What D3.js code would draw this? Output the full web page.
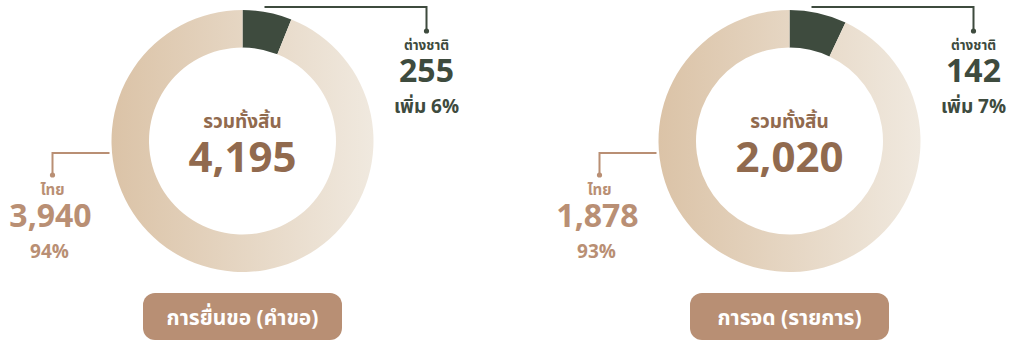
<!DOCTYPE html>
<html>
<head>
<meta charset="utf-8">
<script src="https://cdn.jsdelivr.net/npm/d3@7"></script>
<style>
  html, body { margin: 0; padding: 0; background: #ffffff; }
  svg { display: block; }
  text { font-family: "Noto Sans Thai", "Noto Sans", "Liberation Sans", sans-serif; font-weight: 700; }
</style>
</head>
<body>
<svg id="chart" width="1011" height="341"></svg>
<script>
// Two donuts: Thai vs foreign share of filings and registrations
const panelTitles = ["การยื่นขอ (คำขอ)", "การจด (รายการ)"];
const categories = ["ต่างชาติ", "ไทย"];
const foreignValues = [255, 142];
const thaiValues = [3940, 1878];
const foreignGrowth = ["เพิ่ม 6%", "เพิ่ม 7%"];
const thaiShare = ["94%", "93%"];
const totalLabel = "รวมทั้งสิ้น";

const colors = {
  foreign: "#3e4b3e",
  ringLeft: "#dbc3a7",
  ringRight: "#f0e9df",
  thai: "#b98f74",
  center: "#916a4e",
  button: "#b88f74"
};

const svg = d3.select("#chart");
const centersX = d3.scalePoint().domain([0, 1]).range([242.5, 789.5]);
const cy = 141;
const outerR = 131, innerR = 93.5;

const fmt = d3.format(",");
const pie = d3.pie().sort(null).value(d => d.value);
const arc = d3.arc().innerRadius(innerR).outerRadius(outerR);
const defs = svg.append("defs");

panelTitles.forEach((title, i) => {
  const cx = centersX(i);
  const data = [
    { key: categories[0], value: foreignValues[i] },
    { key: categories[1], value: thaiValues[i] }
  ];
  const total = d3.sum(data, d => d.value);

  // horizontal light-to-pale fill for the Thai share of the ring
  const gradId = "ring-grad-" + i;
  const grad = defs.append("linearGradient")
    .attr("id", gradId)
    .attr("gradientUnits", "userSpaceOnUse")
    .attr("x1", -outerR).attr("y1", 0)
    .attr("x2", outerR).attr("y2", 0);
  grad.append("stop").attr("offset", "0%").attr("stop-color", colors.ringLeft);
  grad.append("stop").attr("offset", "100%").attr("stop-color", colors.ringRight);

  const g = svg.append("g").attr("transform", `translate(${cx},${cy})`);
  g.selectAll("path")
    .data(pie(data))
    .join("path")
    .attr("d", arc)
    .attr("fill", d => d.data.key === categories[0] ? colors.foreign : `url(#${gradId})`);

  // centre total
  g.append("text").attr("text-anchor", "middle").attr("y", -13)
    .attr("font-size", 19).attr("fill", colors.center).text(totalLabel);
  g.append("text").attr("text-anchor", "middle").attr("y", 31)
    .attr("font-size", 42).attr("fill", colors.center).text(fmt(total));

  // foreign leader + labels
  const fx = cx + 184;
  svg.append("path")
    .attr("d", `M${cx + 22},7 H${fx} V31`)
    .attr("fill", "none").attr("stroke", colors.foreign).attr("stroke-width", 2);
  svg.append("circle").attr("cx", fx).attr("cy", 31).attr("r", 2.6).attr("fill", colors.foreign);
  svg.append("text").attr("x", fx).attr("y", 50).attr("text-anchor", "middle")
    .attr("font-size", 13.5).attr("fill", colors.foreign).text(categories[0]);
  svg.append("text").attr("x", fx).attr("y", 82).attr("text-anchor", "middle")
    .attr("font-size", 32).attr("fill", colors.foreign).text(fmt(foreignValues[i]));
  svg.append("text").attr("x", fx).attr("y", 113).attr("text-anchor", "middle")
    .attr("font-size", 19).attr("fill", colors.foreign).text(foreignGrowth[i]);

  // thai leader + labels
  const tx = cx - 190;
  svg.append("path")
    .attr("d", `M${cx - 133},153 H${tx} V175`)
    .attr("fill", "none").attr("stroke", colors.thai).attr("stroke-width", 2);
  svg.append("circle").attr("cx", tx).attr("cy", 175).attr("r", 2.6).attr("fill", colors.thai);
  svg.append("text").attr("x", tx).attr("y", 195).attr("text-anchor", "middle")
    .attr("font-size", 15).attr("fill", colors.thai).text(categories[1]);
  svg.append("text").attr("x", tx - 2).attr("y", 227).attr("text-anchor", "middle")
    .attr("font-size", 32).attr("fill", colors.thai).text(fmt(thaiValues[i]));
  svg.append("text").attr("x", tx - 3).attr("y", 258).attr("text-anchor", "middle")
    .attr("font-size", 19).attr("fill", colors.thai).text(thaiShare[i]);

  // panel title badge
  svg.append("rect")
    .attr("x", cx - 99.5).attr("y", 293).attr("width", 199).attr("height", 47)
    .attr("rx", 12).attr("fill", colors.button);
  svg.append("text").attr("x", cx).attr("y", 325).attr("text-anchor", "middle")
    .attr("font-size", 21).attr("font-weight", 500).attr("fill", "#ffffff").text(title);
});
</script>
</body>
</html>
